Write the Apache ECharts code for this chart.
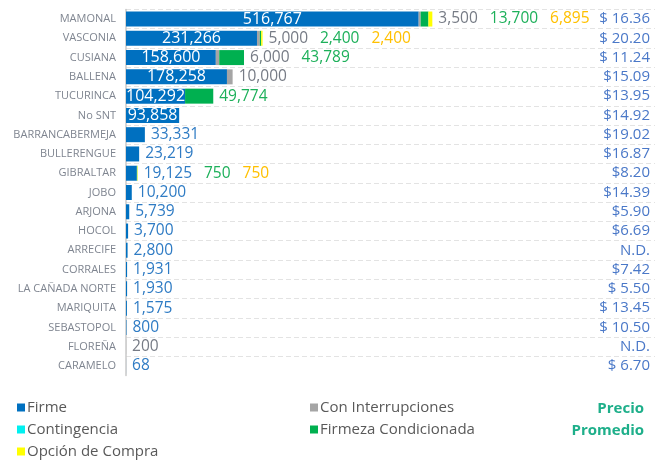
<!DOCTYPE html>
<html>
<head>
<meta charset="utf-8">
<script src="https://cdn.jsdelivr.net/npm/echarts@6/dist/echarts.min.js"></script>
<style>
  html, body { margin: 0; padding: 0; background: #fff; }
  #chart { width: 657px; height: 462px; }
</style>
</head>
<body>
<div id="chart"></div>
<script>
// campos / puntos de entrega
const categories = ['MAMONAL', 'VASCONIA', 'CUSIANA', 'BALLENA', 'TUCURINCA', 'No SNT',
  'BARRANCABERMEJA', 'BULLERENGUE', 'GIBRALTAR', 'JOBO', 'ARJONA', 'HOCOL', 'ARRECIFE',
  'CORRALES', 'LA CAÑADA NORTE', 'MARIQUITA', 'SEBASTOPOL', 'FLOREÑA', 'CARAMELO']

const firme = [516767, 231266, 158600, 178258, 104292, 93858, 33331, 23219, 19125, 10200,
  5739, 3700, 2800, 1931, 1930, 1575, 800, 0, 68]
const interrupciones = [3500, 5000, 6000, 10000, 0, 0, 0, 0, 0, 0, 0, 0, 0, 0, 0, 0, 0, 200, 0]
const contingencia = [0, 0, 0, 0, 0, 0, 0, 0, 0, 0, 0, 0, 0, 0, 0, 0, 0, 0, 0]
const condicionada = [13700, 2400, 43789, 0, 49774, 0, 0, 0, 750, 0, 0, 0, 0, 0, 0, 0, 0, 0, 0]
const opcion = [6895, 2400, 0, 0, 0, 0, 0, 0, 750, 0, 0, 0, 0, 0, 0, 0, 0, 0, 0]

const precios = ['$ 16.36', '$ 20.20', '$ 11.24', '$15.09', '$13.95', '$14.92', '$19.02', '$16.87',
  '$8.20', '$14.39', '$5.90', '$6.69', 'N.D.', '$7.42', '$ 5.50', '$ 13.45', '$ 10.50', 'N.D.', '$ 6.70']

const FONT = '"Open Sans", sans-serif'
const INSIDE_MIN = 90000 // a partir de aqui la etiqueta de Firme va dentro de la barra
const LBL = 15.5

const fmt = (v) => v.toLocaleString('en-US')

const chart = echarts.init(document.getElementById('chart'))

function tailLabel(p) {
  const i = p.dataIndex
  const parts = []
  if (firme[i] > 0 && firme[i] < INSIDE_MIN) parts.push('{f|' + fmt(firme[i]) + '}')
  if (interrupciones[i] > 0) parts.push('{i|' + fmt(interrupciones[i]) + '}')
  if (contingencia[i] > 0) parts.push('{c|' + fmt(contingencia[i]) + '}')
  if (condicionada[i] > 0) parts.push('{g|' + fmt(condicionada[i]) + '}')
  if (opcion[i] > 0) parts.push('{o|' + fmt(opcion[i]) + '}')
  return parts.join('{s|}')
}

const barW = 15

const legendBase = {
  orient: 'vertical', itemWidth: 8, itemHeight: 8, itemGap: 7, padding: 0,
  icon: 'rect',
  textStyle: { color: '#595959', fontSize: 15, fontFamily: FONT, padding: [0, 0, 0, -3] },
}

const titleStyle = { color: '#1eaf8a', fontSize: 15, fontWeight: 'bold', fontFamily: FONT }

const option = {
  animation: false,
  textStyle: { fontFamily: FONT },
  title: [
    { text: 'Precio', right: 8, top: 396, textStyle: titleStyle },
    { text: 'Promedio', right: 8, top: 418, textStyle: titleStyle },
  ],
  legend: [
    { ...legendBase, left: 17, top: 400, data: ['Firme', 'Contingencia', 'Opción de Compra'] },
    { ...legendBase, left: 310, top: 400, data: ['Con Interrupciones', 'Firmeza Condicionada'] },
  ],
  grid: { left: 126, right: 2, top: 9.4, bottom: 86.4 },
  xAxis: {
    type: 'value', min: 0, max: 934000, show: false,
  },
  yAxis: [
    {
      type: 'category', inverse: true, data: categories,
      axisLine: { show: true, lineStyle: { color: '#c8c8c8', width: 1.5 } },
      axisTick: { show: false },
      axisLabel: { color: '#7f8590', fontSize: 11, margin: 10, interval: 0, fontFamily: FONT },
      splitLine: { show: true, showMaxLine: false, interval: 0, lineStyle: { color: '#e3e3e3', type: [5, 3] } },
    },
    {
      type: 'category', inverse: true, position: 'right', data: precios,
      axisLine: { show: false }, axisTick: { show: false }, splitLine: { show: false },
      axisLabel: { inside: true, margin: 5, interval: 0, color: '#4a78c8', fontSize: 15, fontFamily: FONT },
    },
  ],
  series: [
    {
      name: 'Firme', type: 'bar', stack: 'total', barWidth: barW,
      itemStyle: { color: '#0070c0' },
      data: firme.map((v) => ({
        value: v,
        label: v >= INSIDE_MIN
          ? { show: true, position: 'inside', color: '#fff', fontSize: 16, fontFamily: FONT, formatter: (p) => fmt(p.value) }
          : { show: false },
      })),
    },
    { name: 'Con Interrupciones', type: 'bar', stack: 'total', barWidth: barW, itemStyle: { color: '#a5a5a5' }, data: interrupciones },
    { name: 'Contingencia', type: 'bar', stack: 'total', barWidth: barW, itemStyle: { color: '#00f0f0' }, data: contingencia },
    { name: 'Firmeza Condicionada', type: 'bar', stack: 'total', barWidth: barW, itemStyle: { color: '#00b050' }, data: condicionada },
    { name: 'Opción de Compra', type: 'bar', stack: 'total', barWidth: barW, itemStyle: { color: '#ffff00' }, data: opcion },
    {
      // serie sin valor, solo lleva las etiquetas al final de cada barra
      name: 'etiquetas', type: 'bar', stack: 'total', barWidth: barW,
      itemStyle: { color: 'transparent' },
      data: categories.map(() => 0),
      label: {
        show: true, position: 'right', distance: 6, formatter: tailLabel,
        fontSize: LBL, fontFamily: FONT,
        rich: {
          f: { color: '#2e7bc4', fontSize: LBL, fontFamily: FONT },
          i: { color: '#767b85', fontSize: LBL, fontFamily: FONT },
          c: { color: '#00c8c8', fontSize: LBL, fontFamily: FONT },
          g: { color: '#1db05a', fontSize: LBL, fontFamily: FONT },
          o: { color: '#ffc000', fontSize: LBL, fontFamily: FONT },
          s: { width: 12 },
        },
      },
    },
  ],
}

chart.setOption(option)
</script>
</body>
</html>
